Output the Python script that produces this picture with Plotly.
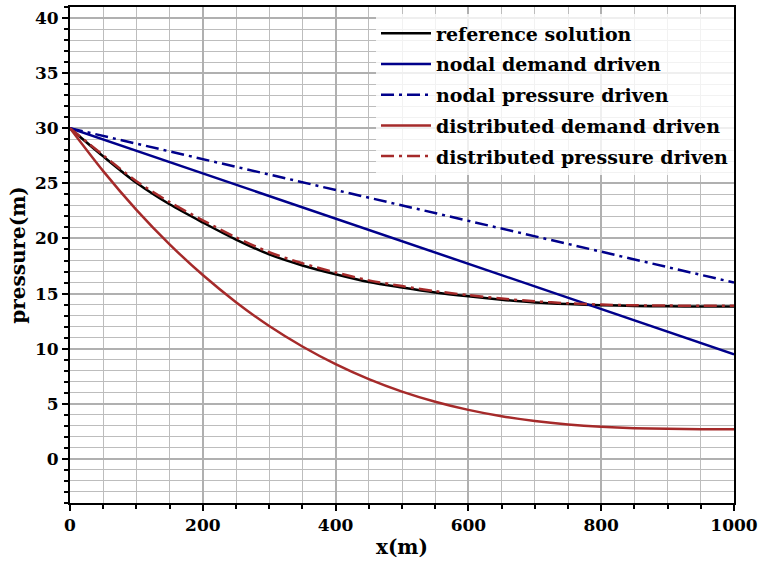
import plotly.graph_objects as go

x_dist = [0, 50, 100, 150, 200, 250, 300, 350, 400, 450, 500,
          550, 600, 650, 700, 750, 800, 850, 900, 950, 1000]
reference = [30.0, 27.45, 25.05, 23.1, 21.45, 19.9, 18.55, 17.55, 16.75, 16.05, 15.55,
             15.1, 14.75, 14.45, 14.2, 14.05, 13.95, 13.88, 13.84, 13.82, 13.82]
dist_pressure = [30.0, 27.55, 25.2, 23.3, 21.65, 20.1, 18.75, 17.75, 16.92, 16.2, 15.68,
                 15.22, 14.86, 14.55, 14.3, 14.12, 14.0, 13.94, 13.91, 13.9, 13.9]
dist_demand = [30.0, 26.11, 22.6, 19.47, 16.68, 14.22, 12.06, 10.2, 8.6, 7.24, 6.11,
               5.19, 4.45, 3.87, 3.44, 3.13, 2.92, 2.79, 2.73, 2.7, 2.7]

x_nodal = [0, 200, 400, 600, 800, 1000]
nodal_demand = [30.0, 25.9, 21.8, 17.7, 13.6, 9.5]
nodal_pressure = [30.0, 27.2, 24.4, 21.6, 18.8, 16.0]

FONT = "DejaVu Serif"
DASHDOT = "13px,5px,3px,5px"
W = 2.5

fig = go.Figure()
series = [
    ("reference solution", x_dist, reference, "black", "solid"),
    ("nodal demand driven", x_nodal, nodal_demand, "#00008B", "solid"),
    ("nodal pressure driven", x_nodal, nodal_pressure, "#00008B", DASHDOT),
    ("distributed demand driven", x_dist, dist_demand, "#A52A2A", "solid"),
    ("distributed pressure driven", x_dist, dist_pressure, "#A52A2A", DASHDOT),
]
for i, (name, xs, ys, col, dash) in enumerate(series):
    fig.add_trace(go.Scatter(
        x=xs, y=ys, mode="lines", name=name, legendgroup=f"g{i}",
        line=dict(color=col, width=W, dash=dash,
                  shape="spline" if xs is x_dist else "linear", smoothing=0.8),
    ))

axis_common = dict(
    showline=True, linecolor="black", linewidth=2, mirror=True,
    ticks="outside", tickcolor="black", tickwidth=1.5, ticklen=6,
    showgrid=True, gridcolor="#b0b0b0", gridwidth=2, zeroline=False,
    tickfont=dict(family=FONT, size=17, color="black", weight="bold"),
)

fig.update_xaxes(
    range=[0, 1000], dtick=200, tick0=0,
    minor=dict(dtick=50, showgrid=True, gridcolor="#bdbdbd", gridwidth=1,
               ticks="outside", ticklen=4, tickcolor="black"),
    title=dict(text="x(m)", font=dict(family=FONT, size=20, color="black", weight="bold"), standoff=6),
    **axis_common,
)
fig.update_yaxes(
    range=[-4, 41], dtick=5, tick0=0,
    minor=dict(dtick=1, showgrid=True, gridcolor="#bdbdbd", gridwidth=1,
               ticks="outside", ticklen=4, tickcolor="black"),
    title=dict(text="pressure(m)", font=dict(family=FONT, size=20, color="black", weight="bold"), standoff=4),
    **axis_common,
)

fig.update_layout(
    width=763, height=565,
    margin=dict(l=70, r=26, t=5, b=62),
    plot_bgcolor="white", paper_bgcolor="white",
    legend=dict(
        x=1, xanchor="right", y=0.985, yanchor="top",
        bgcolor="rgba(255,255,255,0.8)", borderwidth=0,
        font=dict(family=FONT, size=19, color="black", weight="bold"),
        tracegroupgap=3, traceorder="grouped", itemwidth=50,
    ),
    showlegend=True,
)

fig.write_html("out.html")
